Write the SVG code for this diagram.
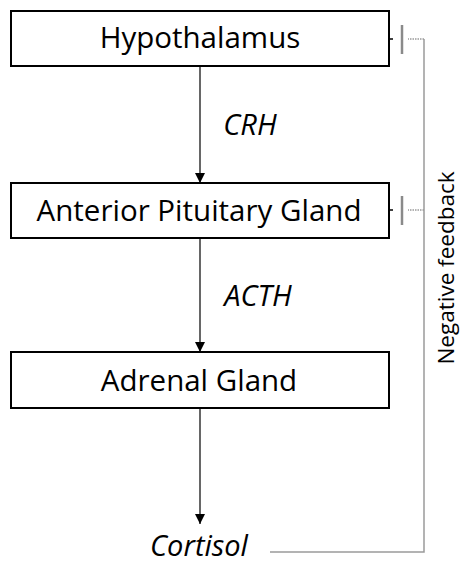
<svg xmlns="http://www.w3.org/2000/svg" width="462" height="564" viewBox="0 0 462 564">
<defs>
<style>
.box{fill:#fff;stroke:#000;stroke-width:2}
.lbl{font-family:"Open Sans","Liberation Sans",sans-serif;font-size:29.5px;fill:#000;text-anchor:middle}
.it{font-family:"Open Sans","Liberation Sans",sans-serif;font-style:italic;font-size:29px;fill:#000;text-anchor:middle}
.arr{stroke:#000;stroke-width:1.2;fill:none}
.fb{stroke:#9a9a9a;stroke-width:1.5;fill:none}
.fbd{stroke:#9a9a9a;stroke-width:1.5;fill:none;stroke-dasharray:1.5 1}
.tee{stroke:#8a8a8a;stroke-width:2.5}
</style>
<marker id="ah" viewBox="0 0 10 10" refX="10" refY="5" markerWidth="10" markerHeight="10" markerUnits="userSpaceOnUse" orient="auto">
<path d="M0,0 L10,5 L0,10 z" fill="#000"/>
</marker>
</defs>
<g id="connectors">
<line class="arr" x1="200" y1="66" x2="200" y2="183" marker-end="url(#ah)"/>
<line class="arr" x1="200" y1="238" x2="200" y2="352" marker-end="url(#ah)"/>
<line class="arr" x1="200" y1="408" x2="200" y2="524" marker-end="url(#ah)"/>
<polyline class="fb" points="270,552 424,552 424,39"/>
<line class="fbd" x1="424" y1="39" x2="408" y2="39"/>
<line class="fbd" x1="424" y1="210" x2="408" y2="210"/>
<line class="tee" x1="402" y1="25" x2="402" y2="54"/>
<line class="tee" x1="402" y1="196" x2="402" y2="225"/>
<line stroke="#000" stroke-width="1.5" x1="390" y1="39" x2="393" y2="39"/>
<line stroke="#000" stroke-width="1.5" x1="390" y1="210" x2="393" y2="210"/>
</g>
<g id="hypothalamus">
<rect class="box" x="11" y="11" width="378" height="55"/>
<text class="lbl" x="200" y="48">Hypothalamus</text>
</g>
<g id="crh">
<text class="it" x="250" y="135">CRH</text>
</g>
<g id="pituitary">
<rect class="box" x="11" y="183" width="378" height="55"/>
<text class="lbl" x="199" y="221">Anterior Pituitary Gland</text>
</g>
<g id="acth">
<text class="it" x="258" y="306">ACTH</text>
</g>
<g id="adrenal">
<rect class="box" x="11" y="352" width="378" height="56"/>
<text class="lbl" x="199" y="391">Adrenal Gland</text>
</g>
<g id="cortisol">
<text class="it" x="199" y="556">Cortisol</text>
</g>
<g id="feedback-label">
<text x="0" y="0" transform="translate(454,268) rotate(-90)" style="font-family:'Open Sans','Liberation Sans',sans-serif;font-size:22.5px;fill:#000;text-anchor:middle">Negative feedback</text>
</g>
</svg>
